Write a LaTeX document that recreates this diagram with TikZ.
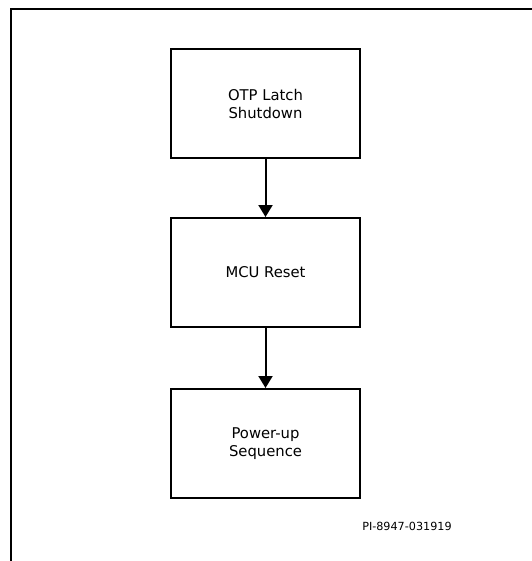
\documentclass[tikz,border=0pt]{standalone}
\usepackage{fontspec}
\setmainfont{DejaVu Sans}
\usetikzlibrary{arrows.meta}
\begin{document}
\begin{tikzpicture}[x=0.75pt,y=-0.75pt,
  stepbox/.style={draw=black,line width=1.5pt,minimum width=189*0.75pt,
    minimum height=109*0.75pt,inner sep=0pt,align=center,
    font=\fontsize{11.1pt}{13.5pt}\selectfont},
  flow/.style={line width=1.5pt,-{Triangle[length=9pt,width=10.5pt]}},
  frame/.style={line width=1.5pt,line cap=rect}]
\useasboundingbox (0,0) rectangle (532,561);
% open frame: top and left edges only
\coordinate (fr) at (532,9);
\coordinate (fc) at (11,9);
\coordinate (fb) at (11,561);
\draw[frame] (fr) -- (fc) -- (fb);
% process steps
\node[stepbox] (otp) at (265.5,103.5) {OTP Latch\\Shutdown};
\node[stepbox] (mcu) at (265.5,272.5) {MCU Reset};
\node[stepbox] (pwr) at (265.5,443.5) {Power-up\\Sequence};
\draw[flow] (otp) -- (mcu);
\draw[flow] (mcu) -- (pwr);
% drawing number
\node[anchor=base west,inner sep=0pt,font=\fontsize{8.4pt}{10pt}\selectfont] (pi) at (362,530) {PI-8947-031919};
\end{tikzpicture}
\end{document}
